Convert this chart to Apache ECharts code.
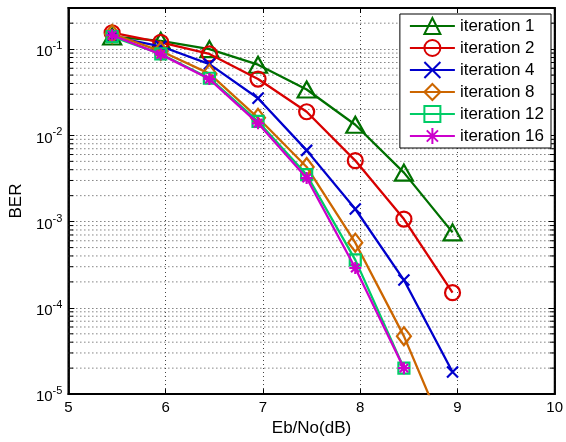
<!DOCTYPE html>
<html>
<head>
<meta charset="utf-8">
<script src="https://cdn.jsdelivr.net/npm/echarts@6/dist/echarts.min.js"></script>
<style>html,body{margin:0;padding:0;background:#fff;}#c{width:566px;height:442px;}</style>
</head>
<body>
<div id="c"></div>
<script>
var ebno = [5.45, 5.95, 6.45, 6.95, 7.45, 7.95, 8.45, 8.95];
var iter1 = [0.14, 0.125, 0.1, 0.066, 0.034, 0.0133, 0.0037, 0.00075];
var iter2 = [0.155, 0.12, 0.088, 0.045, 0.0188, 0.0051, 0.00107, 0.00015];
var iter4 = [0.14, 0.108, 0.067, 0.027, 0.0067, 0.0014, 0.00021, 0.000018];
var iter8 = [0.15, 0.095, 0.052, 0.016, 0.0043, 0.00057, 0.000047, 0.0000022];
var iter12 = [0.14, 0.088, 0.046, 0.0145, 0.0035, 0.00036, 0.00002];
var iter16 = [0.145, 0.087, 0.045, 0.0138, 0.0032, 0.00029, 0.00002];
var names = ['iteration 1', 'iteration 2', 'iteration 4', 'iteration 8', 'iteration 12', 'iteration 16'];
var xTicks = [5, 6, 7, 8, 9, 10];
var xMin = 5, xMax = 10;
var yMin = 1e-5, yMax = 0.3;

var FONT = 'Liberation Sans, Arial, sans-serif';
var minorGridVals = [];
for (var k = -5; k <= -1; k++) {
  for (var m = 2; m <= 9; m++) {
    var v = m * Math.pow(10, k);
    if (v < yMax - 1e-9) minorGridVals.push(v);
  }
}

function pairs(ys) { return ys.map(function (y, i) { return [ebno[i], y]; }); }

var styles = [
  { c: '#007000', sym: 'triangle', size: [18, 16] },
  { c: '#d80000', sym: 'circle', size: 15 },
  { c: '#0000cc', sym: 'path://M0,0L12,12M12,0L0,12', size: 11 },
  { c: '#cc6600', sym: 'diamond', size: [14, 18] },
  { c: '#00cc66', sym: 'rect', size: 11 },
  { c: '#cc00cc', sym: 'path://M6,0L6,12M0,6L12,6M1.8,1.8L10.2,10.2M10.2,1.8L1.8,10.2', size: 12 }
];
var datas = [iter1, iter2, iter4, iter8, iter12, iter16];

var series = [];
minorGridVals.forEach(function (v, i) {
  series.push({
    name: 'g' + i,
    type: 'line',
    data: [[xMin, v], [xMax, v]],
    symbol: 'none',
    silent: true,
    animation: false,
    lineStyle: { color: '#444', type: [1, 3], width: 1 },
    emphasis: { disabled: true },
    z: 1
  });
});
var tickL = [], tickR = [];
minorGridVals.forEach(function (v) {
  tickL.push([xMin, v], [xMin + 0.05, v], [null, '-']);
  tickR.push([xMax - 0.05, v], [xMax, v], [null, '-']);
});
[tickL, tickR].forEach(function (d, i) {
  series.push({
    name: 't' + i,
    type: 'line',
    data: d,
    symbol: 'none',
    connectNulls: false,
    silent: true,
    animation: false,
    lineStyle: { color: '#000', width: 1 },
    emphasis: { disabled: true },
    z: 2
  });
});
datas.forEach(function (d, i) {
  var s = styles[i];
  series.push({
    name: names[i],
    type: 'line',
    data: pairs(d),
    symbol: s.sym,
    symbolSize: s.size,
    showAllSymbol: true,
    clip: true,
    lineStyle: { color: s.c, width: 2.3 },
    itemStyle: { color: 'rgba(0,0,0,0)', borderColor: s.c, borderWidth: 2.2 },
    emphasis: { disabled: true },
    animation: false,
    z: 3 + i
  });
});

var chart = echarts.init(document.getElementById('c'), null, { renderer: 'canvas' });
chart.setOption({
  backgroundColor: '#fff',
  animation: false,
  textStyle: { fontFamily: FONT },
  grid: { left: 65, right: 10, top: 8, bottom: 44, show: true, borderColor: '#000', borderWidth: 1.8, backgroundColor: 'transparent' },
  legend: {
    data: names,
    right: 15,
    top: 14,
    orient: 'vertical',
    itemWidth: 45,
    itemHeight: 20,
    itemGap: 4,
    padding: [3, 7, 3, 9],
    backgroundColor: '#fff',
    borderColor: '#000',
    borderWidth: 1,
    textStyle: { fontSize: 17, color: '#000', fontFamily: FONT },
    selectedMode: false
  },
  xAxis: [{
    type: 'value',
    min: xMin, max: xMax, interval: 1,
    name: 'Eb/No(dB)',
    nameLocation: 'middle',
    nameGap: 24,
    nameTextStyle: { fontSize: 17, color: '#000', fontFamily: FONT },
    axisLine: { show: true, lineStyle: { color: '#000', width: 1.8 } },
    axisTick: { inside: true, length: 5, lineStyle: { color: '#000' } },
    axisLabel: { fontSize: 15, color: '#000', margin: 6, fontFamily: FONT,
      formatter: function (v) { return xTicks.indexOf(v) >= 0 ? String(v) : ''; } },
    splitLine: { show: true, lineStyle: { color: '#444', type: [1, 3], width: 1 } }
  }, {
    type: 'value', position: 'top',
    min: xMin, max: xMax, interval: 1,
    axisLine: { show: true, lineStyle: { color: '#000', width: 1.8 } },
    axisTick: { inside: true, length: 5, lineStyle: { color: '#000' } },
    axisLabel: { show: false },
    splitLine: { show: false }
  }],
  yAxis: [{
    type: 'log',
    logBase: 10,
    min: yMin, max: yMax,
    name: 'BER',
    nameLocation: 'middle',
    nameGap: 40,
    nameTextStyle: { fontSize: 17, color: '#000', fontFamily: FONT },
    axisLine: { show: true, lineStyle: { color: '#000', width: 1.8 } },
    axisTick: { inside: true, length: 6, lineStyle: { color: '#000' } },
    axisLabel: {
      color: '#000', margin: 6, fontFamily: FONT,
      formatter: function (v) {
        var e = Math.round(Math.log(v) / Math.LN10);
        if (Math.abs(v / Math.pow(10, e) - 1) > 1e-6) return '';
        return '{b|10}{s|-' + Math.abs(e) + '}';
      },
      rich: {
        b: { fontSize: 15, color: '#000', fontFamily: FONT, padding: [6, 0, 0, 0] },
        s: { fontSize: 11, color: '#000', fontFamily: FONT, padding: [0, 0, 6, 0] }
      }
    },
    splitLine: { show: true, lineStyle: { color: '#444', type: [1, 3], width: 1 } }
  }, {
    type: 'log',
    logBase: 10,
    position: 'right',
    min: yMin, max: yMax,
    axisLine: { show: true, lineStyle: { color: '#000', width: 1.8 } },
    axisTick: { inside: true, length: 6, lineStyle: { color: '#000' } },
    axisLabel: { show: false },
    splitLine: { show: false }
  }],
  series: series
});
</script>
</body>
</html>
